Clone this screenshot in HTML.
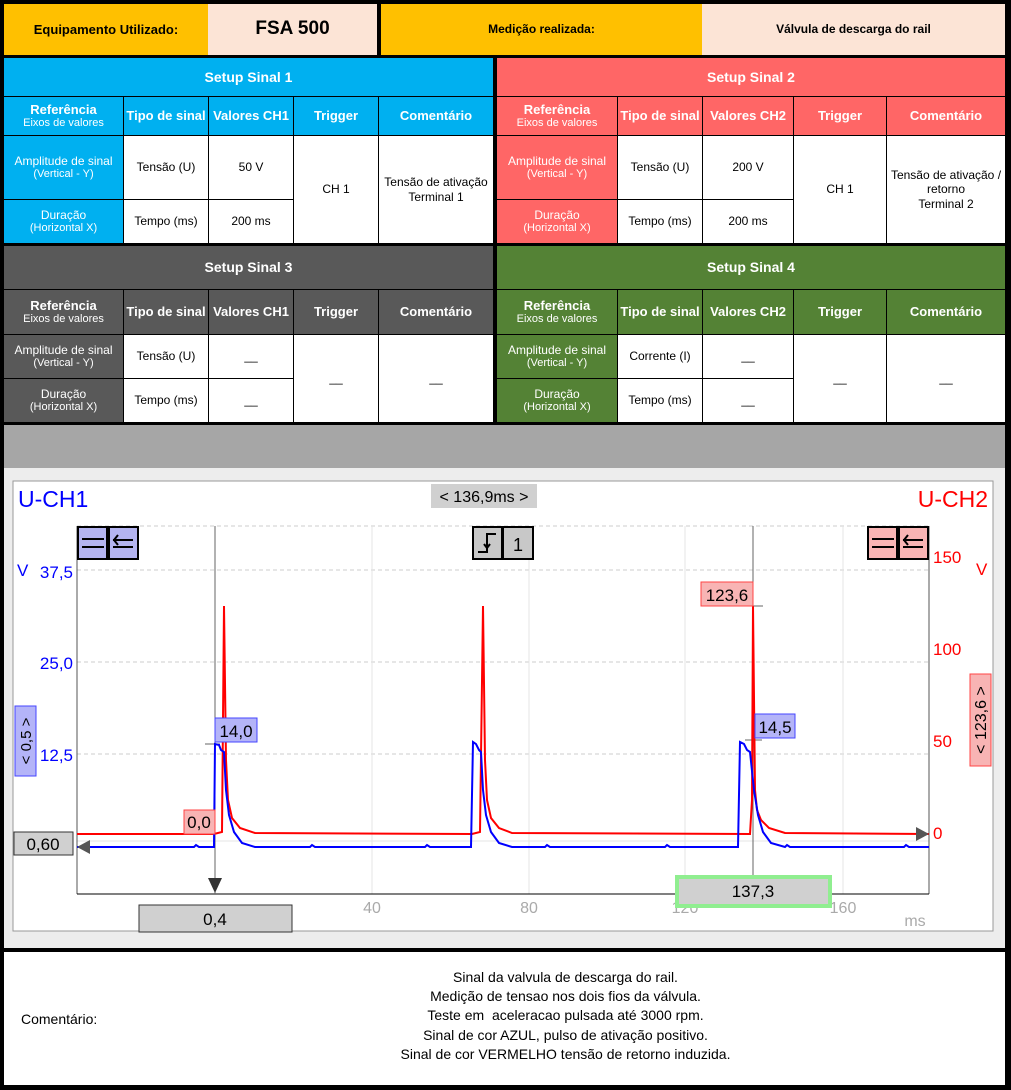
<!DOCTYPE html>
<html><head><meta charset="utf-8"><style>
body{margin:0;width:1011px;height:1090px;background:#000;position:relative;font-family:"Liberation Sans",Arial,sans-serif;overflow:hidden}
.c{position:absolute;display:flex;align-items:center;justify-content:center;text-align:center;box-sizing:border-box;line-height:1.2}
.w{background:#fff;color:#000;font-size:12px}
.h{color:#fff;font-weight:bold;font-size:13px}
.s{color:#fff;font-size:12px}
small{font-size:11px}
</style></head><body>
<!-- top row -->
<div class="c" style="left:4px;top:4px;width:204px;height:51px;background:#FFC000;font-weight:bold;font-size:13px">Equipamento Utilizado:</div>
<div class="c" style="left:208px;top:4px;width:169px;height:51px;background:#FCE4D6;font-weight:bold;font-size:19px">FSA 500</div>
<div class="c" style="left:381px;top:4px;width:321px;height:51px;background:#FFC000;font-weight:bold;font-size:12px">Medição realizada:</div>
<div class="c" style="left:702px;top:4px;width:303px;height:51px;background:#FCE4D6;font-weight:bold;font-size:12px">Válvula de descarga do rail</div>

<!-- Setup 1 -->
<div class="c h" style="left:4px;top:58px;width:489px;height:38px;background:#00B0F0;font-size:14px">Setup Sinal 1</div>
<div class="c h" style="left:4px;top:97px;width:119px;height:38px;background:#00B0F0;flex-direction:column">Referência<small style="font-weight:normal">Eixos de valores</small></div>
<div class="c h" style="left:124px;top:97px;width:84px;height:38px;background:#00B0F0">Tipo de sinal</div>
<div class="c h" style="left:209px;top:97px;width:84px;height:38px;background:#00B0F0">Valores CH1</div>
<div class="c h" style="left:294px;top:97px;width:84px;height:38px;background:#00B0F0">Trigger</div>
<div class="c h" style="left:379px;top:97px;width:114px;height:38px;background:#00B0F0">Comentário</div>
<div class="c s" style="left:4px;top:136px;width:119px;height:63px;background:#00B0F0;flex-direction:column">Amplitude de sinal<small>(Vertical - Y)</small></div>
<div class="c s" style="left:4px;top:200px;width:119px;height:43px;background:#00B0F0;flex-direction:column">Duração<small>(Horizontal X)</small></div>
<div class="c w" style="left:124px;top:136px;width:84px;height:63px">Tensão (U)</div>
<div class="c w" style="left:209px;top:136px;width:84px;height:63px;align-items:flex-start;padding-top:24px">50 V</div>
<div class="c w" style="left:124px;top:200px;width:84px;height:43px">Tempo (ms)</div>
<div class="c w" style="left:209px;top:200px;width:84px;height:43px">200 ms</div>
<div class="c w" style="left:294px;top:136px;width:84px;height:107px">CH 1</div>
<div class="c w" style="left:379px;top:136px;width:114px;height:107px">Tensão de ativação<br>Terminal 1</div>

<!-- Setup 2 -->
<div class="c h" style="left:497px;top:58px;width:508px;height:38px;background:#FF6666;font-size:14px">Setup Sinal 2</div>
<div class="c h" style="left:497px;top:97px;width:120px;height:38px;background:#FF6666;flex-direction:column">Referência<small style="font-weight:normal">Eixos de valores</small></div>
<div class="c h" style="left:618px;top:97px;width:84px;height:38px;background:#FF6666">Tipo de sinal</div>
<div class="c h" style="left:703px;top:97px;width:90px;height:38px;background:#FF6666">Valores CH2</div>
<div class="c h" style="left:794px;top:97px;width:92px;height:38px;background:#FF6666">Trigger</div>
<div class="c h" style="left:887px;top:97px;width:118px;height:38px;background:#FF6666">Comentário</div>
<div class="c s" style="left:497px;top:136px;width:120px;height:63px;background:#FF6666;flex-direction:column">Amplitude de sinal<small>(Vertical - Y)</small></div>
<div class="c s" style="left:497px;top:200px;width:120px;height:43px;background:#FF6666;flex-direction:column">Duração<small>(Horizontal X)</small></div>
<div class="c w" style="left:618px;top:136px;width:84px;height:63px">Tensão (U)</div>
<div class="c w" style="left:703px;top:136px;width:90px;height:63px">200 V</div>
<div class="c w" style="left:618px;top:200px;width:84px;height:43px">Tempo (ms)</div>
<div class="c w" style="left:703px;top:200px;width:90px;height:43px">200 ms</div>
<div class="c w" style="left:794px;top:136px;width:92px;height:107px">CH 1</div>
<div class="c w" style="left:887px;top:136px;width:118px;height:107px">Tensão de ativação /<br>retorno<br>Terminal 2</div>

<!-- Setup 3 -->
<div class="c h" style="left:4px;top:246px;width:489px;height:43px;background:#595959;font-size:14px">Setup Sinal 3</div>
<div class="c h" style="left:4px;top:290px;width:119px;height:44px;background:#595959;flex-direction:column">Referência<small style="font-weight:normal">Eixos de valores</small></div>
<div class="c h" style="left:124px;top:290px;width:84px;height:44px;background:#595959">Tipo de sinal</div>
<div class="c h" style="left:209px;top:290px;width:84px;height:44px;background:#595959">Valores CH1</div>
<div class="c h" style="left:294px;top:290px;width:84px;height:44px;background:#595959">Trigger</div>
<div class="c h" style="left:379px;top:290px;width:114px;height:44px;background:#595959">Comentário</div>
<div class="c s" style="left:4px;top:335px;width:119px;height:43px;background:#595959;flex-direction:column">Amplitude de sinal<small>(Vertical - Y)</small></div>
<div class="c s" style="left:4px;top:379px;width:119px;height:43px;background:#595959;flex-direction:column">Duração<small>(Horizontal X)</small></div>
<div class="c w" style="left:124px;top:335px;width:84px;height:43px">Tensão (U)</div>
<div class="c w" style="left:209px;top:335px;width:84px;height:43px">__</div>
<div class="c w" style="left:124px;top:379px;width:84px;height:43px">Tempo (ms)</div>
<div class="c w" style="left:209px;top:379px;width:84px;height:43px">__</div>
<div class="c w" style="left:294px;top:335px;width:84px;height:87px">__</div>
<div class="c w" style="left:379px;top:335px;width:114px;height:87px">__</div>

<!-- Setup 4 -->
<div class="c h" style="left:497px;top:246px;width:508px;height:43px;background:#548235;font-size:14px">Setup Sinal 4</div>
<div class="c h" style="left:497px;top:290px;width:120px;height:44px;background:#548235;flex-direction:column">Referência<small style="font-weight:normal">Eixos de valores</small></div>
<div class="c h" style="left:618px;top:290px;width:84px;height:44px;background:#548235">Tipo de sinal</div>
<div class="c h" style="left:703px;top:290px;width:90px;height:44px;background:#548235">Valores CH2</div>
<div class="c h" style="left:794px;top:290px;width:92px;height:44px;background:#548235">Trigger</div>
<div class="c h" style="left:887px;top:290px;width:118px;height:44px;background:#548235">Comentário</div>
<div class="c s" style="left:497px;top:335px;width:120px;height:43px;background:#548235;flex-direction:column">Amplitude de sinal<small>(Vertical - Y)</small></div>
<div class="c s" style="left:497px;top:379px;width:120px;height:43px;background:#548235;flex-direction:column">Duração<small>(Horizontal X)</small></div>
<div class="c w" style="left:618px;top:335px;width:84px;height:43px">Corrente (I)</div>
<div class="c w" style="left:703px;top:335px;width:90px;height:43px">__</div>
<div class="c w" style="left:618px;top:379px;width:84px;height:43px">Tempo (ms)</div>
<div class="c w" style="left:703px;top:379px;width:90px;height:43px">__</div>
<div class="c w" style="left:794px;top:335px;width:92px;height:87px">__</div>
<div class="c w" style="left:887px;top:335px;width:118px;height:87px">__</div>

<!-- chart -->
<div style="position:absolute;left:4px;top:425px;width:1001px;height:43px;background:#A6A6A6"></div>
<svg style="position:absolute;left:0;top:0" width="1011" height="1090" viewBox="0 0 1011 1090" font-family="Liberation Sans, Arial, sans-serif">
<rect x="4" y="468" width="1001" height="480" fill="#EDEDED"/>
<rect x="13" y="481" width="980" height="450" fill="#fff" stroke="#999" stroke-width="1"/>
<g stroke="#ccc" stroke-dasharray="4,3" stroke-width="1">
<line x1="77" y1="526" x2="929" y2="526"/>
<line x1="77" y1="570" x2="929" y2="570"/>
<line x1="77" y1="662" x2="929" y2="662"/>
<line x1="77" y1="754" x2="929" y2="754"/>
</g>
<g stroke="#e4e4e4" stroke-width="1">
<line x1="372" y1="526" x2="372" y2="894"/>
<line x1="529" y1="526" x2="529" y2="894"/>
<line x1="685" y1="526" x2="685" y2="894"/>
<line x1="843" y1="526" x2="843" y2="894"/>
<line x1="77" y1="841" x2="929" y2="841"/>
</g>
<line x1="77" y1="526" x2="77" y2="894" stroke="#555"/>
<line x1="929" y1="526" x2="929" y2="894" stroke="#555"/>
<line x1="77" y1="894" x2="929" y2="894" stroke="#000"/>
<line x1="215" y1="526" x2="215" y2="894" stroke="#666"/>
<line x1="753" y1="526" x2="753" y2="894" stroke="#666"/>
<line x1="205" y1="744" x2="220" y2="744" stroke="#666"/>
<line x1="745" y1="740" x2="762" y2="740" stroke="#666"/>
<line x1="740" y1="606" x2="763" y2="606" stroke="#666"/>
<!-- red -->
<path fill="none" stroke="#f00" stroke-width="2" d="M77 834 L214 834 L222 832 L224 606 L226 760 L228 800 L232 818 L240 828 L255 833 L472 834 L480 832 L483 606 L485 760 L487 800 L491 818 L499 828 L512 833 L750 834 L752 800 L753 606 L755 790 L757 810 L761 820 L769 828 L785 833 L929 834"/>
<!-- blue -->
<path fill="none" stroke="#00f" stroke-width="2" d="M77 847 L194 847 L196 845 L199 847 L214 847 L215 744 L219 745 L221 750 L224 752 L226 790 L229 815 L234 832 L242 843 L255 847 L310 847 L312 845 L315 847 L425 847 L427 845 L430 847 L471 847 L473 742 L476 744 L479 750 L481 752 L483 790 L486 815 L491 832 L499 843 L512 847 L545 847 L547 845 L550 847 L665 847 L667 845 L670 847 L738 847 L740 742 L744 744 L747 750 L750 752 L754 790 L758 815 L763 832 L771 843 L785 847 L787 845 L790 847 L904 847 L906 845 L909 847 L929 847"/>
<!-- labels -->
<text x="18" y="507" fill="#0000ff" font-size="23">U-CH1</text>
<text x="988" y="507" fill="#ff0000" font-size="23" text-anchor="end">U-CH2</text>
<rect x="431" y="484" width="106" height="24" fill="#d0d0d0"/>
<text x="484" y="502" font-size="16" text-anchor="middle">&lt; 136,9ms &gt;</text>
<g fill="#00f" font-size="17">
<text x="17" y="576">V</text>
<text x="73" y="578" text-anchor="end">37,5</text>
<text x="73" y="669" text-anchor="end">25,0</text>
<text x="73" y="761" text-anchor="end">12,5</text>
</g>
<g fill="#f00" font-size="17">
<text x="933" y="563">150</text>
<text x="933" y="655">100</text>
<text x="933" y="747">50</text>
<text x="933" y="839">0</text>
<text x="976" y="575">V</text>
</g>
<g fill="#aaa" font-size="16" text-anchor="middle">
<text x="372" y="913">40</text><text x="529" y="913">80</text><text x="685" y="913">120</text><text x="843" y="913">160</text>
<text x="915" y="926">ms</text>
</g>
<!-- icons -->
<rect x="78" y="527" width="29" height="32" fill="#b4b4f0" stroke="#000" stroke-width="2"/>
<rect x="109" y="527" width="29" height="32" fill="#b4b4f0" stroke="#000" stroke-width="2"/>
<path d="M82 539h22M82 547h22M113 540h20M113 547h20M118 535l-4 5 4 5" stroke="#000" stroke-width="2" fill="none"/>
<rect x="868" y="527" width="29" height="32" fill="#f8b4b4" stroke="#000" stroke-width="2"/>
<rect x="899" y="527" width="29" height="32" fill="#f8b4b4" stroke="#000" stroke-width="2"/>
<path d="M872 539h22M872 547h22M903 540h20M903 547h20M908 535l-4 5 4 5" stroke="#000" stroke-width="2" fill="none"/>
<rect x="473" y="527" width="29" height="32" fill="#c8c8c8" stroke="#000" stroke-width="2"/>
<rect x="503" y="527" width="30" height="32" fill="#c8c8c8" stroke="#000" stroke-width="2"/>
<path d="M478 552h9v-18h9M487 548l-3 -4M487 548l3 -4" stroke="#000" stroke-width="2" fill="none"/>
<text x="518" y="551" font-size="18" text-anchor="middle">1</text>
<!-- value boxes -->
<rect x="215" y="718" width="42" height="24" fill="#b4b4f8" stroke="#44f"/>
<text x="236" y="737" font-size="17" text-anchor="middle">14,0</text>
<rect x="755" y="714" width="40" height="24" fill="#b4b4f8" stroke="#44f"/>
<text x="775" y="733" font-size="17" text-anchor="middle">14,5</text>
<rect x="184" y="810" width="31" height="24" fill="#f8b4b4" stroke="#f44"/>
<text x="199" y="828" font-size="17" text-anchor="middle">0,0</text>
<rect x="701" y="582" width="52" height="24" fill="#f8b4b4" stroke="#f44"/>
<text x="727" y="601" font-size="17" text-anchor="middle">123,6</text>
<rect x="15" y="706" width="21" height="70" fill="#b4b4f8" stroke="#44f"/>
<text transform="translate(31 741) rotate(-90)" font-size="15" text-anchor="middle">&lt; 0,5 &gt;</text>
<rect x="970" y="674" width="21" height="92" fill="#f8b4b4" stroke="#f44"/>
<text transform="translate(986 720) rotate(-90)" font-size="16" text-anchor="middle">&lt; 123,6 &gt;</text>
<rect x="14" y="832" width="59" height="23" fill="#d0d0d0" stroke="#333"/>
<text x="43" y="850" font-size="17" text-anchor="middle">0,60</text>
<path d="M77 847l13-7v14z" fill="#555"/>
<path d="M929 834l-13-7v14z" fill="#555"/>
<path d="M208 878h14l-7 15z" fill="#333"/>
<rect x="139" y="905" width="153" height="27" fill="#d0d0d0" stroke="#333"/>
<text x="215" y="925" font-size="17" text-anchor="middle">0,4</text>
<rect x="677" y="877" width="153" height="29" fill="#d0d0d0" stroke="#90ee90" stroke-width="4"/>
<text x="753" y="897" font-size="17" text-anchor="middle">137,3</text>
</svg>

<!-- bottom comment -->
<div style="position:absolute;left:4px;top:952px;width:1001px;height:133px;background:#fff"></div>
<div style="position:absolute;left:21px;top:1011px;font-size:14px">Comentário:</div>
<div style="position:absolute;left:300px;top:968px;width:531px;text-align:center;font-size:14px;line-height:19.2px">Sinal da valvula de descarga do rail.<br>Medição de tensao nos dois fios da válvula.<br>Teste em&nbsp; aceleracao pulsada até 3000 rpm.<br>Sinal de cor AZUL, pulso de ativação positivo.<br>Sinal de cor VERMELHO tensão de retorno induzida.</div>
</body></html>
